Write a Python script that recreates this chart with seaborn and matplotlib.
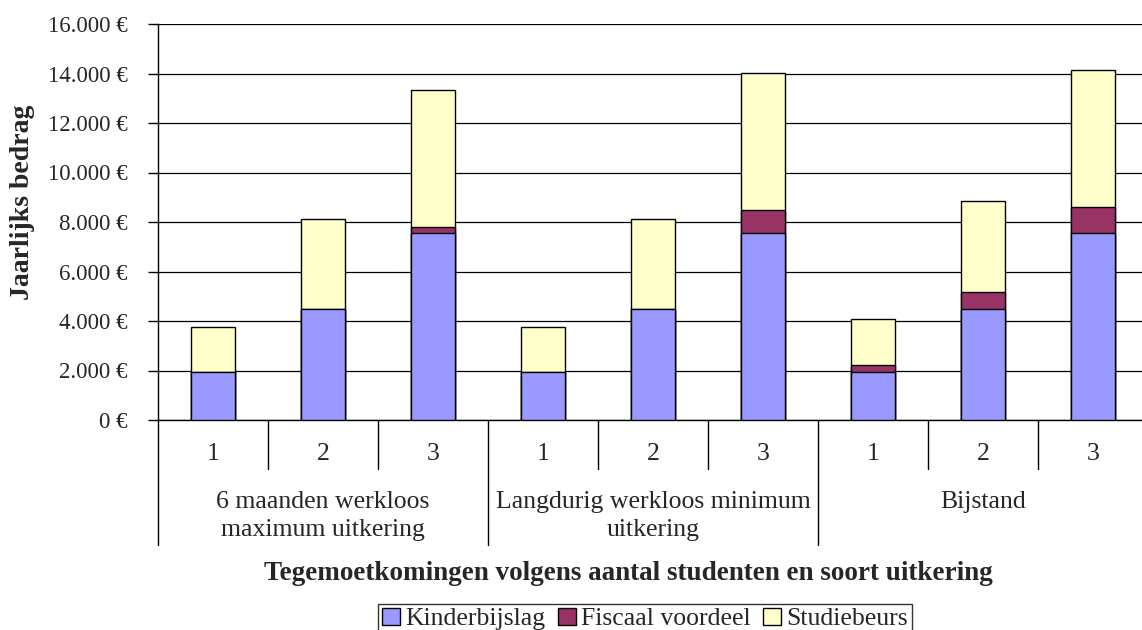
import matplotlib
matplotlib.use("Agg")
import matplotlib.pyplot as plt
from matplotlib.patches import Patch
from matplotlib.ticker import FuncFormatter, MultipleLocator
import seaborn as sns
import pandas as pd

# data
groups = ["6 maanden werkloos\nmaximum uitkering",
          "Langdurig werkloos minimum\nuitkering",
          "Bijstand"]
students = ["1", "2", "3"]
kinderbijslag = [1930, 4470, 7560, 1930, 4470, 7560, 1930, 4470, 7560]
fiscaal_voordeel = [0, 0, 230, 0, 0, 920, 300, 690, 1050]
studiebeurs = [1840, 3670, 5530, 1840, 3670, 5530, 1860, 3700, 5540]

series_names = ["Kinderbijslag", "Fiscaal voordeel", "Studiebeurs"]
colors = ["#9999FF", "#993366", "#FFFFCC"]

sns.set_style("white")
plt.rcParams["font.family"] = ["Liberation Serif", "DejaVu Serif"]
FS = 18.5

slots = [f"{g}-{s}" for g in range(len(groups)) for s in students]
df = pd.DataFrame({
    "slot": slots,
    "kinder": kinderbijslag,
    "fiscaal": fiscaal_voordeel,
    "studie": studiebeurs,
})
df["lvl1"] = df["kinder"]
df["lvl2"] = df["kinder"] + df["fiscaal"]
df["lvl3"] = df["lvl2"] + df["studie"]

W, H = 1142, 630
fig = plt.figure(figsize=(W / 100, H / 100), dpi=100)
ax_left, ax_right, ax_top, ax_bot = 158, 1148, 24, 420
ax = fig.add_axes([ax_left / W, 1 - ax_bot / H, (ax_right - ax_left) / W, (ax_bot - ax_top) / H])

# stacked bars: draw cumulative totals from top layer down
for col, c in zip(["lvl3", "lvl2", "lvl1"], colors[::-1]):
    sns.barplot(data=df, x="slot", y=col, order=slots, color=c, saturation=1,
                width=0.4, edgecolor="black", linewidth=1, ax=ax, zorder=3,
                errorbar=None)

ax.set_xlim(-0.5, len(slots) - 0.5)
ax.set_ylim(0, 16000)
ax.yaxis.set_major_locator(MultipleLocator(2000))
ax.yaxis.set_major_formatter(FuncFormatter(lambda v, p: f"{int(v):,}".replace(",", ".") + " €"))
ax.grid(axis="y", color="black", linewidth=0.9, zorder=0)
ax.set_axisbelow(True)
for s in ["top", "right"]:
    ax.spines[s].set_visible(False)
for s in ["left", "bottom"]:
    ax.spines[s].set_color("black")
    ax.spines[s].set_linewidth(1)
ax.tick_params(axis="y", left=True, direction="out", length=7, width=1, color="black",
               labelsize=16.5, pad=15)
ax.set_xticks([])
ax.set_xlabel("")
ax.set_ylabel("")

# multi-level category axis
axh = ax_bot - ax_top
def ay(py):
    return -(py - ax_bot) / axh

tr = ax.get_xaxis_transform()
for i in range(len(slots)):
    ax.text(i, ay(454), students[i % 3], transform=tr, ha="center", va="center", fontsize=FS)
    if i % 3 != 0:
        ax.plot([i - 0.5, i - 0.5], [0, ay(469)], transform=tr, color="black", lw=1, clip_on=False)
for g in range(len(groups) + 1):
    ax.plot([g * 3 - 0.5, g * 3 - 0.5], [0, ay(545)], transform=tr, color="black", lw=1, clip_on=False)
for g, name in enumerate(groups):
    yc = 516 if "\n" in name else 502
    ax.text(g * 3 + 1, ay(yc), name, transform=tr, ha="center", va="center",
            fontsize=FS, linespacing=1.3)

fig.text(628 / W, 1 - 573 / H, "Tegemoetkomingen volgens aantal studenten en soort uitkering",
         ha="center", va="center", fontsize=19.5, fontweight="bold")
fig.text(23 / W, 1 - 202 / H, "Jaarlijks bedrag", rotation=90, ha="center", va="center",
         fontsize=20, fontweight="bold")

handles = [Patch(facecolor=c, edgecolor="black", linewidth=1, label=n)
           for c, n in zip(colors, series_names)]
leg = fig.legend(handles=handles, loc="center", bbox_to_anchor=(645 / W, 1 - 619 / H),
                 ncol=3, frameon=True, fancybox=False, edgecolor="black", fontsize=FS,
                 handlelength=0.7, handleheight=0.7, handletextpad=0.2, columnspacing=0.5,
                 borderpad=0.15, borderaxespad=0)
leg.get_frame().set_linewidth(1)

fig.savefig("out.png", dpi=100)
